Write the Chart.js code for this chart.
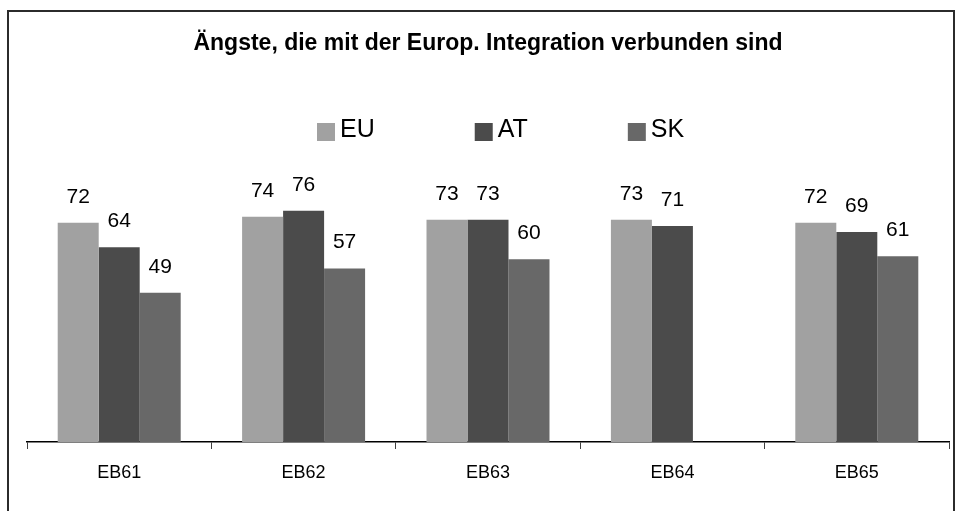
<!DOCTYPE html>
<html lang="de">
<head>
<meta charset="utf-8">
<title>Ängste, die mit der Europ. Integration verbunden sind</title>
<script src="https://cdn.jsdelivr.net/npm/chart.js@4.4.1/dist/chart.umd.min.js"></script>
<style>
	html, body { margin: 0; padding: 0; background: #fff; }
	.chart-box { width: 957px; height: 511px; }
	canvas { display: block; }
</style>
</head>
<body>

<div class="chart-box">
	<canvas id="js_chart_canvas" width="957" height="511"></canvas>
</div>

<script>

/*
 |
 | The data
 |
 */
let chartTitle = "Ängste, die mit der Europ. Integration verbunden sind"
let waves = [ "EB61", "EB62", "EB63", "EB64", "EB65" ]
let seriesNames = [ "EU", "AT", "SK" ]
let valuesEU = [ 72, 74, 73, 73, 72 ]
let valuesAT = [ 64, 76, 73, 71, 69 ]
let valuesSK = [ 49, 57, 60, null, 61 ]

let seriesColours = [ "#a1a1a1", "#4b4b4b", "#686868" ]
let fontFamily = "'Liberation Sans', Arial, sans-serif"


/*
 |
 | The frame around the whole chart
 |
 */
let framePlugin = {
	id: "frame",
	beforeDraw ( chart ) {
		let ctx = chart.ctx
		ctx.save()
		ctx.fillStyle = "#fff"
		ctx.fillRect( 0, 0, chart.width, chart.height )
		ctx.strokeStyle = "#2b2b2b"
		ctx.lineWidth = 2
		ctx.strokeRect( 8, 11, 946, chart.height + 20 )
		ctx.restore()
	}
}

/*
 |
 | Legend ( drawn by hand so the spacing can match )
 |
 */
let legendPlugin = {
	id: "handLegend",
	afterDraw ( chart ) {
		let ctx = chart.ctx
		let x = 317
		let boxSize = 18
		ctx.save()
		ctx.font = "25px " + fontFamily
		ctx.textBaseline = "alphabetic"
		ctx.textAlign = "left"
		chart.data.datasets.forEach( function ( dataset ) {
			ctx.fillStyle = dataset.backgroundColor
			ctx.fillRect( x, 123, boxSize, boxSize )
			ctx.fillStyle = "#000"
			ctx.fillText( dataset.label, x + boxSize + 5, 137 )
			x += boxSize + 5 + ctx.measureText( dataset.label ).width + 100
		} )
		ctx.restore()
	}
}

/*
 |
 | Value labels above every bar
 |
 */
let valueLabelsPlugin = {
	id: "valueLabels",
	afterDatasetsDraw ( chart ) {
		let ctx = chart.ctx
		ctx.save()
		ctx.font = "21px " + fontFamily
		ctx.fillStyle = "#000"
		ctx.textAlign = "center"
		ctx.textBaseline = "alphabetic"
		chart.data.datasets.forEach( function ( dataset, i ) {
			let meta = chart.getDatasetMeta( i )
			meta.data.forEach( function ( bar, j ) {
				let value = dataset.data[ j ]
				if ( value === null || value === undefined )
					return
				ctx.fillText( value, bar.x, bar.y - 20 )
			} )
		} )
		ctx.restore()
	}
}


/*
 |
 | Build and render the chart
 |
 */
let seriesValues = [ valuesEU, valuesAT, valuesSK ]
let chartData = {
	labels: waves,
	datasets: seriesNames.map( function ( name, i ) {
		return {
			label: name,
			data: seriesValues[ i ],
			backgroundColor: seriesColours[ i ],
			borderWidth: 0,
			categoryPercentage: 0.667,
			barPercentage: 1
		}
	} )
}

let chartScales = {
	x: {
		grid: {
			offset: true,
			drawOnChartArea: false,
			tickLength: 7,
			color: "#404040",
			lineWidth: 1
		},
		border: {
			display: true,
			color: "#000",
			width: 1.5
		},
		ticks: {
			color: "#000",
			padding: 13,
			font: { family: fontFamily, size: 18 }
		},
		afterFit: function ( scale ) {
			scale.height = 69
		}
	},
	y: {
		display: false,
		min: 0,
		max: 100
	}
}

let chartConfig = {
	type: "bar",
	data: chartData,
	options: {
		responsive: false,
		animation: false,
		layout: {
			padding: { left: 27, right: 8, top: 0, bottom: 0 }
		},
		scales: chartScales,
		plugins: {
			legend: { display: false },
			tooltip: { enabled: false },
			title: {
				display: true,
				text: chartTitle,
				color: "#000",
				font: { family: fontFamily, size: 23, weight: "bold" },
				padding: { top: 30, bottom: 80 }
			}
		}
	},
	plugins: [ framePlugin, legendPlugin, valueLabelsPlugin ]
}

let chart = new Chart( document.getElementById( "js_chart_canvas" ), chartConfig )

</script>
</body>
</html>
